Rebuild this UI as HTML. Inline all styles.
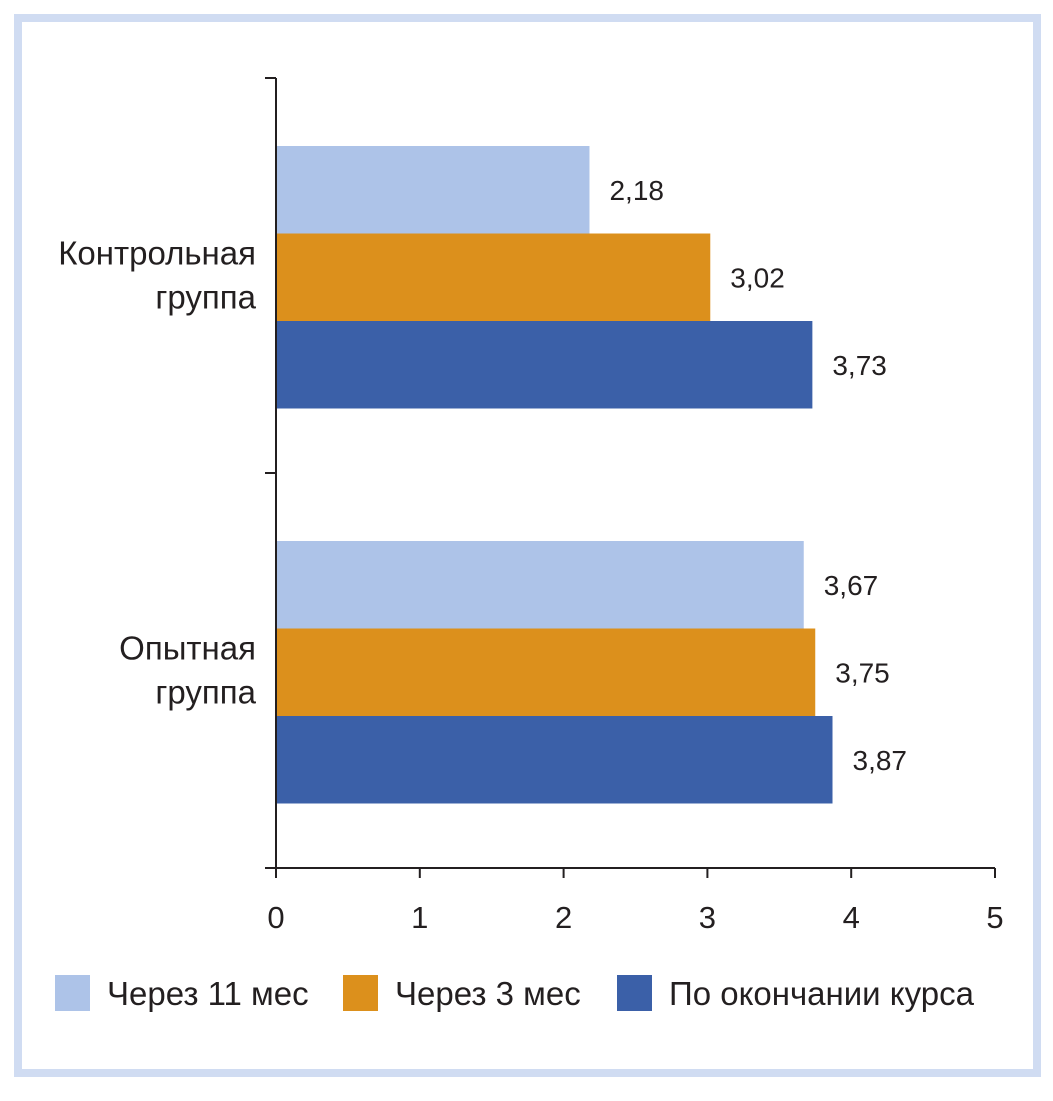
<!DOCTYPE html>
<html><head><meta charset="utf-8"><style>
body{margin:0;background:#fff;}
svg text{font-family:"Liberation Sans","DejaVu Sans",sans-serif;fill:#231f20;}
</style></head><body>
<svg id="chart" width="1053" height="1096" xmlns="http://www.w3.org/2000/svg">
<rect x="18" y="18" width="1019" height="1055" fill="#fff" stroke="#d0dcf2" stroke-width="8"/>
<g id="plot"></g>
</svg>
<script>
const categories = ["Контрольная|группа", "Опытная|группа"];
const seriesNames = ["Через 11 мес", "Через 3 мес", "По окончании курса"];
const s11 = [2.18, 3.67];
const s3 = [3.02, 3.75];
const sEnd = [3.73, 3.87];
const xTicks = [0, 1, 2, 3, 4, 5];
const colors = ["#adc3e8", "#dc901c", "#3b60a8"];

const NS = "http://www.w3.org/2000/svg";
const g = document.getElementById("plot");
const x0 = 276, x1 = 995, yTop = 78, yBot = 868;
const xs = v => x0 + (v - 0) / 5 * (x1 - x0);
const bandH = (yBot - yTop) / categories.length;
const barH = 87.5;
function el(tag, attrs, txt) { const e = document.createElementNS(NS, tag); for (const k in attrs) e.setAttribute(k, attrs[k]); if (txt !== undefined) e.textContent = txt; g.appendChild(e); return e; }

const series = [s11, s3, sEnd];
categories.forEach((c, ci) => {
  const bandTop = yTop + ci * bandH;
  series.forEach((arr, si) => {
    const y = bandTop + 68 + si * barH;
    const r = el("rect", { x: x0, y: y, width: xs(arr[ci]) - x0, height: barH, fill: colors[si] });
    
    
    const t = el("text", { x: xs(arr[ci]) + 20, y: y + barH / 2 + 10, "font-size": 28 }, arr[ci].toFixed(2).replace(".", ","));
    
    
  });
  const lines = c.split("|");
  const cy = bandTop + bandH / 2;
  lines.forEach((ln, li) => {
    const t = el("text", { x: 256, y: cy - 22 + li * 44 + 11, "font-size": 33, "text-anchor": "end" }, ln);
    
    
  });
});
for (let i = 0; i <= categories.length; i++) {
  const t = el("line", { x1: 265, x2: x0, y1: yTop + i * bandH, y2: yTop + i * bandH, stroke: "#231f20", "stroke-width": 2 });
  
  
}
const ya = el("line", { x1: x0, x2: x0, y1: yTop, y2: yBot, stroke: "#231f20", "stroke-width": 2 });


const xa = el("line", { x1: x0, x2: x1, y1: yBot, y2: yBot, stroke: "#231f20", "stroke-width": 2 });


xTicks.forEach(v => {
  const tk = el("line", { x1: xs(v), x2: xs(v), y1: yBot, y2: yBot + 10, stroke: "#231f20", "stroke-width": 2 });
  
  
  const t = el("text", { x: xs(v), y: 928, "font-size": 31, "text-anchor": "middle" }, String(v));
  
  
});
const legX = [55, 343, 617];
seriesNames.forEach((n, i) => {
  const r = el("rect", { x: legX[i], y: 975, width: 35, height: 36, fill: colors[i] });
  
  
  const t = el("text", { x: legX[i] + 52, y: 1005, "font-size": 33 }, n);
  
  
});
</script>
</body></html>
